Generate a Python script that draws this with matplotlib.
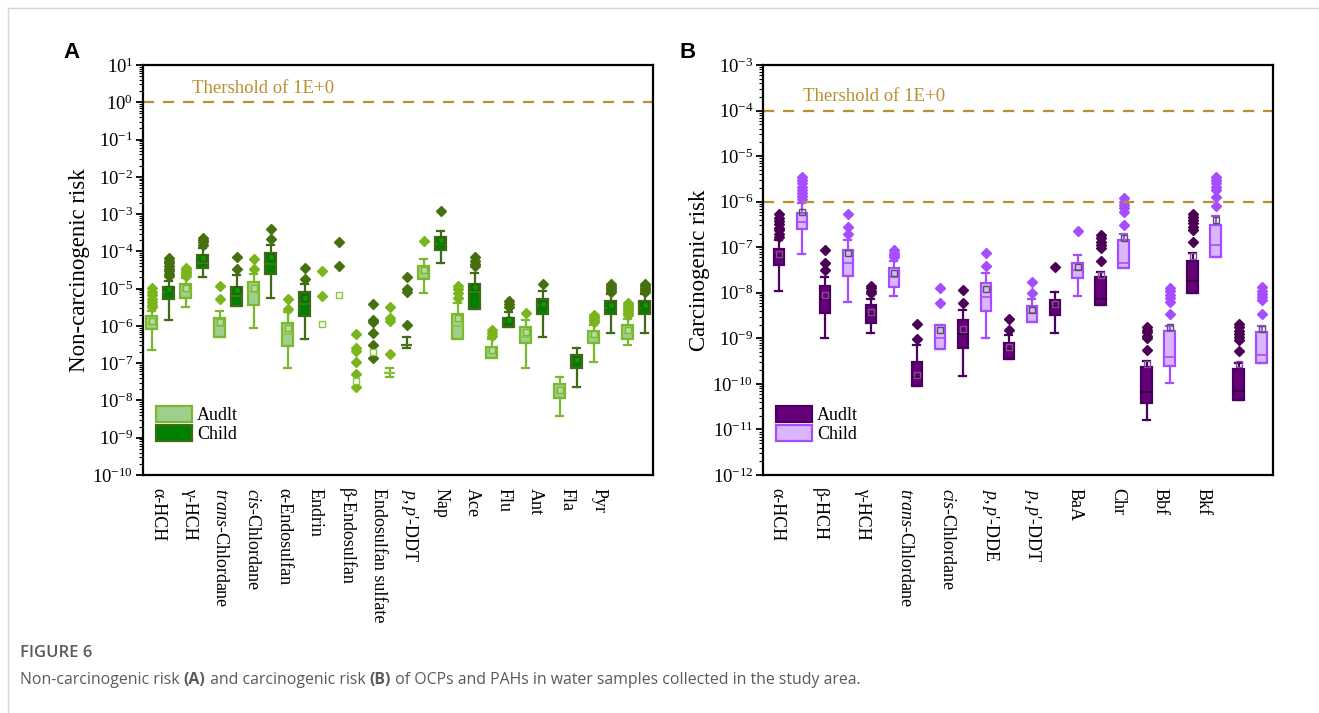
import numpy as np
import matplotlib
matplotlib.use("Agg")
import matplotlib.pyplot as plt
from matplotlib.patches import Patch
from matplotlib.lines import Line2D
from matplotlib.ticker import LogLocator, NullFormatter

plt.rcParams['font.family'] = ['Liberation Serif', 'DejaVu Serif']
plt.rcParams['mathtext.fontset'] = 'custom'
plt.rcParams['mathtext.rm'] = 'Liberation Serif'
plt.rcParams['mathtext.it'] = 'Liberation Serif:italic'

###############
## Panel A data (log10 of risk)
a_cats = ['α-HCH', 'γ-HCH', '$\\mathit{trans}$-Chlordane', '$\\mathit{cis}$-Chlordane',
          'α-Endosulfan', 'Endrin', 'β-Endosulfan', 'Endosulfan sulfate',
          "$\\mathit{p,p}$'-DDT", 'Nap', 'Ace', 'Flu', 'Ant', 'Fla', 'Pyr']

a_adult_lo = [-6.65, -5.48, -6.29, -6.06, -7.12, None, None, -7.38, -5.11, -6.34, -6.85, -7.13, -8.43, -6.98, -6.51]
a_adult_q1 = [-6.09, -5.24, -6.29, -5.45, -6.54, None, None, -7.25, -4.73, -6.34, -6.85, -6.46, -7.94, -6.46, -6.34]
a_adult_med = [-5.96, -5.06, -6.00, -5.10, -6.22, None, None, -7.25, -4.55, -6.00, -6.67, -6.29, -7.77, -6.31, -6.20]
a_adult_q3 = [-5.73, -4.87, -5.78, -4.82, -5.91, None, None, -7.25, -4.39, -5.67, -6.56, -6.04, -7.56, -6.13, -5.98]
a_adult_hi = [-5.60, -4.72, -5.60, -4.62, -5.64, None, None, -7.12, -4.21, -5.38, -6.36, -5.84, -7.38, -5.98, -5.82]
a_adult_mean = [-5.87, -4.98, -5.90, -4.98, -6.05, -5.96, -7.49, None, -4.50, -5.80, -6.64, -6.15, -7.72, -6.22, -6.10]
a_adult_fliers = [[-4.97, -5.08, -5.18, -5.27, -5.35, -5.43, -5.50],
                  [-4.45, -4.50, -4.55, -4.60, -4.65],
                  [-4.93, -5.27],
                  [-4.20, -4.47],
                  [-5.27, -5.55],
                  [-4.53, -5.20],
                  [-6.23, -6.60, -6.66, -6.98, -7.30, -7.64],
                  [-5.48, -5.78, -5.87, -6.76],
                  [-3.71],
                  [-4.93, -5.02, -5.11, -5.24],
                  [-6.10, -6.20, -6.28],
                  [-5.66],
                  [],
                  [-5.70, -5.75, -5.80, -5.85, -5.90],
                  [-5.38, -5.45, -5.50, -5.55, -5.60, -5.65, -5.70]]

a_child_lo = [-5.85, -4.68, -5.46, -5.26, -6.34, None, None, -6.60, -4.30, -5.55, -6.04, -6.31, -7.63, -6.18, -6.18]
a_child_q1 = [-5.29, -4.45, -5.46, -4.62, -5.73, None, None, -6.50, -3.96, -5.55, -6.04, -5.67, -7.13, -5.67, -5.67]
a_child_med = [-5.09, -4.32, -5.20, -4.35, -5.42, None, None, -6.50, -3.79, -5.10, -5.89, -5.45, -6.98, -5.51, -5.53]
a_child_q3 = [-4.95, -4.09, -4.96, -4.04, -5.09, None, None, -6.50, -3.61, -4.87, -5.78, -5.27, -6.78, -5.33, -5.33]
a_child_hi = [-4.80, -3.90, -4.63, -3.82, -4.88, None, None, -6.31, -3.45, -4.57, -5.63, -5.06, -6.58, -5.15, -5.15]
a_child_mean = [-5.00, -4.18, -5.05, -4.15, -5.25, -5.18, -6.71, None, -3.70, -4.95, -5.85, -5.40, -6.92, -5.45, -5.45]
a_child_fliers = [[-4.18, -4.25, -4.32, -4.40, -4.47, -4.54, -4.60, -4.67],
                  [-3.64, -3.70, -3.76, -3.82],
                  [-4.15, -4.48],
                  [-3.40, -3.68],
                  [-4.44, -4.73],
                  [-3.75, -4.38],
                  [-5.42, -5.85, -5.90, -6.18, -6.51, -6.85],
                  [-4.69, -5.00, -5.09, -5.97],
                  [-2.91],
                  [-4.15, -4.25, -4.33, -4.40],
                  [-5.33, -5.42, -5.50],
                  [-4.87],
                  [],
                  [-4.88, -4.93, -4.98, -5.04, -5.10],
                  [-4.88, -4.93, -4.98, -5.04, -5.10]]

## Panel B data (log10 of risk)
b_cats = ['α-HCH', 'β-HCH', 'γ-HCH', '$\\mathit{trans}$-Chlordane', '$\\mathit{cis}$-Chlordane',
          "$\\mathit{p,p}$'-DDE", "$\\mathit{p,p}$'-DDT", 'BaA', 'Chr', 'Bbf', 'Bkf']

b_adult_lo = [-7.96, -9.00, -8.88, -10.04, -9.82, -9.45, -8.88, -8.26, -10.79, -8.01, -10.35]
b_adult_q1 = [-7.39, -8.44, -8.66, -10.04, -9.21, -9.45, -8.49, -8.26, -10.42, -8.01, -10.35]
b_adult_med = [-7.20, -8.13, -8.46, -9.85, -8.90, -9.23, -8.29, -8.13, -10.18, -7.74, -10.15]
b_adult_q3 = [-7.04, -7.85, -8.27, -9.52, -8.59, -9.10, -8.15, -7.65, -9.63, -7.30, -9.67]
b_adult_hi = [-6.84, -7.65, -8.13, -9.15, -8.37, -8.93, -7.98, -7.55, -9.50, -7.12, -9.54]
b_adult_mean = [-7.15, -8.05, -8.42, -9.80, -8.80, -9.20, -8.25, -7.60, -9.56, -7.20, -9.57]
b_adult_fliers = [[-6.27, -6.35, -6.43, -6.50, -6.57, -6.63, -6.70, -6.77],
                  [-7.07, -7.35, -7.50],
                  [-7.85, -7.90, -7.95, -8.00],
                  [-8.69, -9.02],
                  [-7.94, -8.22],
                  [-8.57, -8.81],
                  [-7.44],
                  [-6.73, -6.80, -6.88, -6.95, -7.02, -7.30],
                  [-8.75, -8.81, -8.87, -8.94, -9.00, -9.26],
                  [-6.26, -6.33, -6.40, -6.47, -6.55, -6.62, -6.89],
                  [-8.69, -8.76, -8.83, -8.90, -8.97, -9.04, -9.28]]

b_child_lo = [-7.15, -8.21, -8.07, -9.23, -9.00, -8.64, -8.07, -7.46, -9.98, -7.22, -9.54]
b_child_q1 = [-6.61, -7.63, -7.87, -9.23, -8.40, -8.64, -7.68, -7.46, -9.61, -7.22, -9.54]
b_child_med = [-6.44, -7.35, -7.65, -9.00, -8.10, -8.45, -7.50, -7.35, -9.40, -6.95, -9.36]
b_child_q3 = [-6.24, -7.06, -7.46, -8.71, -7.78, -8.29, -7.34, -6.85, -8.84, -6.51, -8.86]
b_child_hi = [-6.04, -6.85, -7.30, -8.71, -7.56, -8.13, -7.17, -6.71, -8.73, -6.31, -8.73]
b_child_mean = [-6.22, -7.13, -7.56, -8.82, -7.92, -8.37, -7.43, -6.80, -8.76, -6.40, -8.79]
b_child_fliers = [[-5.45, -5.53, -5.60, -5.67, -5.74, -5.81, -5.88, -5.95],
                  [-6.27, -6.55, -6.71],
                  [-7.07, -7.12, -7.17, -7.22],
                  [-7.89, -8.22],
                  [-7.13, -7.41],
                  [-7.76, -8.00],
                  [-6.64],
                  [-5.93, -6.00, -6.07, -6.14, -6.22, -6.51],
                  [-7.90, -7.97, -8.04, -8.11, -8.20, -8.47],
                  [-5.45, -5.52, -5.60, -5.67, -5.74, -5.89, -6.09],
                  [-7.88, -7.95, -8.02, -8.09, -8.16, -8.47]]

thr_color = '#b8902f'
##############


def draw_group(ax, xs, lo, q1, med, q3, hi, mean, fliers, width, face, edge, medc, flc, meanfc, meanec):
    stats, pos = [], []
    for i in range(len(xs)):
        if med[i] is None:
            # no box, only the single points
            ax.plot([xs[i]] * len(fliers[i]), 10 ** np.array(fliers[i]), 'D', ms=5.5,
                    mfc=flc, mec=flc, zorder=4)
            continue
        stats.append(dict(whislo=10 ** lo[i], q1=10 ** q1[i], med=10 ** med[i], q3=10 ** q3[i],
                          whishi=10 ** hi[i], fliers=10 ** np.array(fliers[i], dtype=float)))
        pos.append(xs[i])
    ax.bxp(stats, positions=pos, widths=width, capwidths=width * 0.65, patch_artist=True,
           manage_ticks=False,
           boxprops=dict(facecolor=face, edgecolor=edge, linewidth=1.6),
           whiskerprops=dict(color=edge, linewidth=1.6),
           capprops=dict(color=edge, linewidth=1.6),
           medianprops=dict(color=medc, linewidth=1.2),
           flierprops=dict(marker='D', markersize=5.5, markerfacecolor=flc, markeredgecolor=flc))
    for i in range(len(xs)):
        if mean[i] is None:
            continue
        if med[i] is None:
            ax.plot(xs[i], 10 ** mean[i], 's', ms=5, mfc='white', mec='#8cc63f', mew=1.0, zorder=5)
        else:
            ax.plot(xs[i], 10 ** mean[i], 's', ms=5, mfc=meanfc, mec=meanec, mew=1.0, zorder=5)


def style_axes(ax, ylo, yhi):
    ax.set_yscale('log')
    ax.set_ylim(ylo, yhi)
    ax.yaxis.set_major_locator(LogLocator(base=10, numticks=30))
    ax.yaxis.set_minor_locator(LogLocator(base=10, subs=np.arange(2, 10), numticks=300))
    ax.yaxis.set_minor_formatter(NullFormatter())
    ax.tick_params(axis='y', which='major', direction='out', length=5, width=1.3, labelsize=13.5, pad=2)
    ax.tick_params(axis='y', which='minor', direction='out', length=3, width=0.8)
    ax.tick_params(axis='x', length=0, labelsize=13, pad=9)
    for s in ax.spines.values():
        s.set_linewidth(1.6)


fig = plt.figure(figsize=(13.19, 7.13), dpi=100)
W, H = 1319.0, 713.0

# ---------------- panel A
axA = fig.add_axes([143 / W, 1 - 475 / H, 510 / W, 410 / H])
xa = np.arange(len(a_cats))
draw_group(axA, xa - 0.25, a_adult_lo, a_adult_q1, a_adult_med, a_adult_q3, a_adult_hi, a_adult_mean,
           a_adult_fliers, 0.3, '#9fcf8c', '#7ab82e', '#8cc63f', '#7ab51d', '#b9dca6', '#7ab82e')
draw_group(axA, xa + 0.25, a_child_lo, a_child_q1, a_child_med, a_child_q3, a_child_hi, a_child_mean,
           a_child_fliers, 0.3, '#008000', '#3f6b16', '#4a7a1c', '#45700f', '#00a000', '#2f5a10')
axA.set_xlim(-0.5, 14.5)
style_axes(axA, 1e-10, 1e1)
axA.set_xticks(-0.06 + 0.926 * xa, a_cats, rotation=-90, va='top', ha='center')
axA.axhline(1e0, color=thr_color, ls=(0, (5, 4)), lw=1.6)
axA.text(0.95, 10 ** 0.38, 'Thershold of 1E+0', color=thr_color, fontsize=13.5, va='center', ha='left')
axA.set_ylabel('Non-carcinogenic risk', fontsize=16.5, labelpad=2)
axA.legend(handles=[Patch(facecolor='#9fcf8c', edgecolor='#7ab82e', lw=1.6, label='Audlt'),
                    Patch(facecolor='#008000', edgecolor='#3f6b16', lw=1.6, label='Child')],
           loc='lower left', bbox_to_anchor=(0.012, 0.06), frameon=False, fontsize=13,
           handlelength=2.0, handleheight=1.05, labelspacing=0.02, handletextpad=0.25, borderaxespad=0)

# ---------------- panel B
axB = fig.add_axes([763 / W, 1 - 475 / H, 510 / W, 410 / H])
xb = np.arange(len(b_cats))
draw_group(axB, xb - 0.25, b_adult_lo, b_adult_q1, b_adult_med, b_adult_q3, b_adult_hi, b_adult_mean,
           b_adult_fliers, 0.22, '#650078', '#4a0060', '#2a0035', '#4b0055', 'none', '#8a4a9a')
draw_group(axB, xb + 0.25, b_child_lo, b_child_q1, b_child_med, b_child_q3, b_child_hi, b_child_mean,
           b_child_fliers, 0.22, '#dab6fc', '#a64dff', '#a64dff', '#a64dff', 'none', '#555555')
axB.set_xlim(-0.59, 10.5)
style_axes(axB, 1e-12, 1e-3)
axB.set_xticks(-0.28 + 0.926 * xb, b_cats, rotation=-90, va='top', ha='center')
axB.axhline(1e-4, color=thr_color, ls=(0, (5, 4)), lw=1.6)
axB.axhline(1e-6, color=thr_color, ls=(0, (5, 4)), lw=1.6)
axB.text(0.28, 10 ** -3.7, 'Thershold of 1E+0', color=thr_color, fontsize=13.5, va='center', ha='left')
axB.set_ylabel('Carcinogenic risk', fontsize=16.5, labelpad=2)
axB.legend(handles=[Patch(facecolor='#650078', edgecolor='#4a0060', lw=1.6, label='Audlt'),
                    Patch(facecolor='#dab6fc', edgecolor='#a64dff', lw=1.6, label='Child')],
           loc='lower left', bbox_to_anchor=(0.012, 0.06), frameon=False, fontsize=13,
           handlelength=2.0, handleheight=1.05, labelspacing=0.02, handletextpad=0.25, borderaxespad=0)

# panel letters
fig.text(72 / W, 1 - 52 / H, 'A', fontsize=16, fontweight='bold', family='Liberation Sans', ha='center', va='center')
fig.text(688 / W, 1 - 52 / H, 'B', fontsize=16, fontweight='bold', family='Liberation Sans', ha='center', va='center')

# frame lines round the figure
fig.add_artist(Line2D([8 / W, 8 / W], [0, 1 - 8 / H], color='#d6d6d6', lw=1.0))
fig.add_artist(Line2D([8 / W, 1], [1 - 8 / H, 1 - 8 / H], color='#d6d6d6', lw=1.0))

# caption
cap_color = '#5a5a5a'
fig.text(20 / W, 1 - 653 / H, 'FIGURE 6', fontsize=12, family='Open Sans', color=cap_color,
         va='center', fontweight='semibold')
parts = [('Non-carcinogenic risk ', 'normal'), ('(A)', 'bold'), (' and carcinogenic risk ', 'normal'),
         ('(B)', 'bold'), (' of OCPs and PAHs in water samples collected in the study area.', 'normal')]
renderer = fig.canvas.get_renderer()
x0 = 20 / W
for txt, wt in parts:
    t = fig.text(x0, 1 - 680 / H, txt, fontsize=11.4, family='Open Sans', color=cap_color,
                 va='center', fontweight=wt)
    bb = t.get_window_extent(renderer=renderer)
    x0 += bb.width / (W)

fig.savefig('out.png', dpi=100)
